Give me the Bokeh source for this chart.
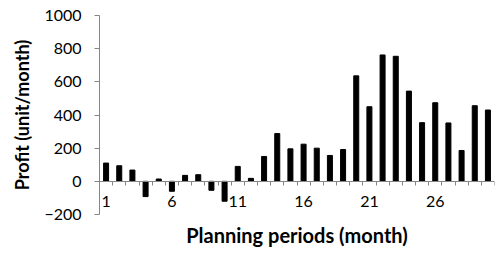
from bokeh.plotting import figure
from bokeh.models import FixedTicker, Title, LinearAxis, Range1d
from bokeh.embed import file_html
from bokeh.resources import INLINE

periods = list(range(1, 31))
profit = [110, 94, 68, -92, 14, -60, 36, 40, -54, -120,
          90, 18, 150, 288, 196, 224, 200, 156, 192, 636,
          450, 762, 754, 544, 354, 474, 352, 186, 456, 430]
y_ticks = [-200, 0, 200, 400, 600, 800, 1000]
x_tick_positions = [1, 6, 11, 16, 21, 26]
x_tick_labels = ["1", "6", "11", "16", "21", "26"]

FONT = "Lato"
AXIS_GRAY = "#868686"

p = figure(width=497, height=253, output_backend="svg", toolbar_location=None,
           x_range=Range1d(periods[0] - 0.5, periods[-1] + 0.5),
           y_range=Range1d(y_ticks[0], y_ticks[-1]),
           x_axis_location=None, y_axis_location=None,
           min_border_left=99, min_border_right=3, min_border_top=15,
           min_border_bottom=38)
p.outline_line_color = None
p.xgrid.visible = False
p.ygrid.visible = False

p.vbar(x=periods, top=profit, bottom=0, width=0.38, color="black")

yaxis = LinearAxis(ticker=FixedTicker(ticks=y_ticks),
                   axis_label="Profit (unit/month)")
yaxis.axis_line_color = AXIS_GRAY
yaxis.major_tick_line_color = AXIS_GRAY
yaxis.major_tick_in = 0
yaxis.major_tick_out = 5
yaxis.minor_tick_line_color = None
yaxis.major_label_standoff = 13
yaxis.major_label_text_font = FONT
yaxis.major_label_text_font_size = "16px"
yaxis.major_label_text_color = "black"
yaxis.axis_label_text_font = FONT
yaxis.axis_label_text_font_size = "18px"
yaxis.axis_label_text_font_style = "bold"
yaxis.axis_label_text_color = "black"
yaxis.axis_label_standoff = 8
p.add_layout(yaxis, "left")

boundaries = [x - 0.5 for x in periods] + [periods[-1] + 0.5]
xaxis = LinearAxis(ticker=FixedTicker(ticks=x_tick_positions, minor_ticks=boundaries),
                   fixed_location=0,
                   major_label_overrides=dict(zip(x_tick_positions, x_tick_labels)))
xaxis.axis_line_color = AXIS_GRAY
xaxis.major_tick_line_color = None
xaxis.major_tick_in = 0
xaxis.major_tick_out = 0
xaxis.minor_tick_line_color = AXIS_GRAY
xaxis.minor_tick_in = 0
xaxis.minor_tick_out = 4
xaxis.major_label_standoff = 11
xaxis.major_label_text_font = FONT
xaxis.major_label_text_font_size = "16px"
xaxis.major_label_text_color = "black"
p.add_layout(xaxis, "below")

p.add_layout(Title(text="Planning periods (month)", align="center",
                   text_font=FONT, text_font_size="20px",
                   text_font_style="bold", text_color="black",
                   standoff=13), "below")

open("out.html", "w").write(file_html(p, INLINE))
